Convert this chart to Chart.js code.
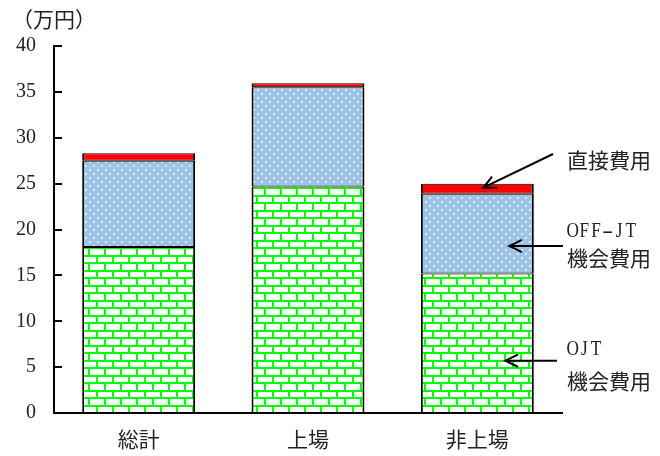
<!DOCTYPE html>
<html>
<head>
<meta charset="utf-8">
<script src="https://cdn.jsdelivr.net/npm/chart.js@4/dist/chart.umd.min.js"></script>
<style>
  html, body { margin: 0; padding: 0; background: #fff; }
  #wrap { width: 660px; height: 456px; }
</style>
</head>
<body>
<div id="wrap"><canvas id="c" width="660" height="456"></canvas></div>
<script>
// Training cost per employee (万円), stacked by component
const categories = ['総計', '上場', '非上場'];
const ojtCost    = [18.1, 24.7, 15.2];   // OJT 機会費用
const offjtCost  = [9.4, 10.8, 8.7];     // OFF-JT 機会費用
const directCost = [0.8, 0.45, 1.1];     // 直接費用
const yTicks     = [0, 5, 10, 15, 20, 25, 30, 35, 40];
const unitLabel  = '（万円）';

const JP = '"Noto Sans CJK JP", "Noto Sans", sans-serif';
const NUM = '"Liberation Serif", "DejaVu Serif", serif';

// Green brick fill
function brickPattern() {
  const c = document.createElement('canvas');
  c.width = 16; c.height = 15;
  const g = c.getContext('2d');
  g.fillStyle = '#ffffff';
  g.fillRect(0, 0, 16, 15);
  g.fillStyle = '#00ff00';
  g.fillRect(0, 0, 16, 2);
  g.fillRect(0, 7, 16, 2);
  g.fillRect(0, 0, 2, 7);
  g.fillRect(8, 7, 2, 8);
  return g.createPattern(c, 'repeat');
}

// Light blue fill with a staggered white dot grid
function dotPattern() {
  const c = document.createElement('canvas');
  c.width = 8; c.height = 8;
  const g = c.getContext('2d');
  g.fillStyle = '#9dc3e6';
  g.fillRect(0, 0, 8, 8);
  g.fillStyle = 'rgba(255,255,255,0.55)';
  g.fillRect(1, 1, 2, 2);
  g.fillRect(5, 5, 2, 2);
  g.fillStyle = 'rgba(255,255,255,0.9)';
  g.fillRect(1.5, 1.5, 1, 1);
  g.fillRect(5.5, 5.5, 1, 1);
  return g.createPattern(c, 'repeat');
}

// Half-width Latin text on a fixed advance, slightly condensed; dashes are stretched
function monoText(ctx, text, x, y, advance) {
  ctx.save();
  ctx.textAlign = 'center';
  for (let k = 0; k < text.length; k++) {
    ctx.save();
    ctx.translate(x + advance * (k + 0.5), y);
    ctx.scale(text[k] === '-' ? 1.6 : 0.82, 1);
    ctx.fillText(text[k], 0, 0);
    ctx.restore();
  }
  ctx.restore();
}

// Axis unit, inward y tick marks, and the component callouts with arrows
const decorations = {
  id: 'decorations',
  afterDraw(chart) {
    const ctx = chart.ctx;
    const y = chart.scales.y;
    const area = chart.chartArea;
    ctx.save();

    // unit label above the axis
    ctx.fillStyle = '#222';
    ctx.font = '21px ' + JP;
    ctx.textBaseline = 'middle';
    ctx.textAlign = 'left';
    ctx.fillText(unitLabel, 12, 19);

    // tick marks pointing into the plot
    ctx.strokeStyle = '#000';
    ctx.lineWidth = 2;
    yTicks.forEach(v => {
      const py = Math.round(y.getPixelForValue(v));
      ctx.beginPath();
      ctx.moveTo(area.left, py);
      ctx.lineTo(area.left + 8, py);
      ctx.stroke();
    });

    // callouts pointing at the last bar
    const bar = chart.getDatasetMeta(0).data[2];
    const cx = bar.x;
    const i = 2;
    const arrows = [
      { from: [area.right - 9, 154], to: [cx + 6, y.getPixelForValue(ojtCost[i] + offjtCost[i] + directCost[i] / 2) - 1] },
      { from: [area.right + 1, y.getPixelForValue(18.2)], to: [cx + 32, y.getPixelForValue(18.2)] },
      { from: [area.right - 5, y.getPixelForValue(5.7)], to: [cx + 28, y.getPixelForValue(5.7)] }
    ];
    ctx.lineWidth = 2;
    arrows.forEach(a => {
      const [x1, y1] = a.from, [x2, y2] = a.to;
      const ang = Math.atan2(y1 - y2, x1 - x2);
      ctx.beginPath();
      ctx.moveTo(x1, y1);
      ctx.lineTo(x2, y2);
      ctx.stroke();
      const hl = 14, spread = 0.45;
      ctx.beginPath();
      ctx.moveTo(x2 + hl * Math.cos(ang + spread), y2 + hl * Math.sin(ang + spread));
      ctx.lineTo(x2, y2);
      ctx.lineTo(x2 + hl * Math.cos(ang - spread), y2 + hl * Math.sin(ang - spread));
      ctx.stroke();
    });

    // callout texts
    ctx.fillStyle = '#222';
    ctx.textAlign = 'left';
    ctx.font = '21px ' + JP;
    ctx.fillText('直接費用', 567, 160);
    ctx.fillText('機会費用', 567, 258);
    ctx.fillText('機会費用', 567, 381);
    ctx.font = '21px ' + NUM;
    monoText(ctx, 'OFF-JT', 567, 231, 11.6);
    monoText(ctx, 'OJT', 567, 349, 11.6);
    ctx.restore();
  }
};

const seg = {
  borderColor: '#000',
  borderSkipped: false,
  categoryPercentage: 1,
  barPercentage: 0.667,
  borderWidth: { left: 2, right: 2, top: 1, bottom: 1 }
};

new Chart(document.getElementById('c'), {
  type: 'bar',
  data: {
    labels: categories,
    datasets: [
      Object.assign({ label: 'OJT 機会費用', data: ojtCost, backgroundColor: brickPattern() }, seg),
      Object.assign({ label: 'OFF-JT 機会費用', data: offjtCost, backgroundColor: dotPattern() }, seg),
      Object.assign({ label: '直接費用', data: directCost, backgroundColor: '#ff0000' }, seg)
    ]
  },
  options: {
    responsive: false,
    animation: false,
    layout: { padding: { left: 0, top: 46, right: 98, bottom: 0 } },
    plugins: { legend: { display: false }, tooltip: { enabled: false } },
    scales: {
      x: {
        stacked: true,
        grid: { display: false, drawTicks: false },
        border: { display: true, color: '#000', width: 2 },
        ticks: { color: '#222', font: { family: JP, size: 21 }, padding: 13 },
        afterFit(s) { s.height = 43; }
      },
      y: {
        stacked: true,
        min: 0, max: 40,
        afterBuildTicks(s) { s.ticks = yTicks.map(v => ({ value: v })); },
        grid: { display: false, drawTicks: false },
        border: { display: true, color: '#000', width: 2 },
        ticks: { color: '#222', font: { family: NUM, size: 20 }, padding: 18 },
        afterFit(s) { s.width = 54; }
      }
    }
  },
  plugins: [decorations]
});
</script>
</body>
</html>
